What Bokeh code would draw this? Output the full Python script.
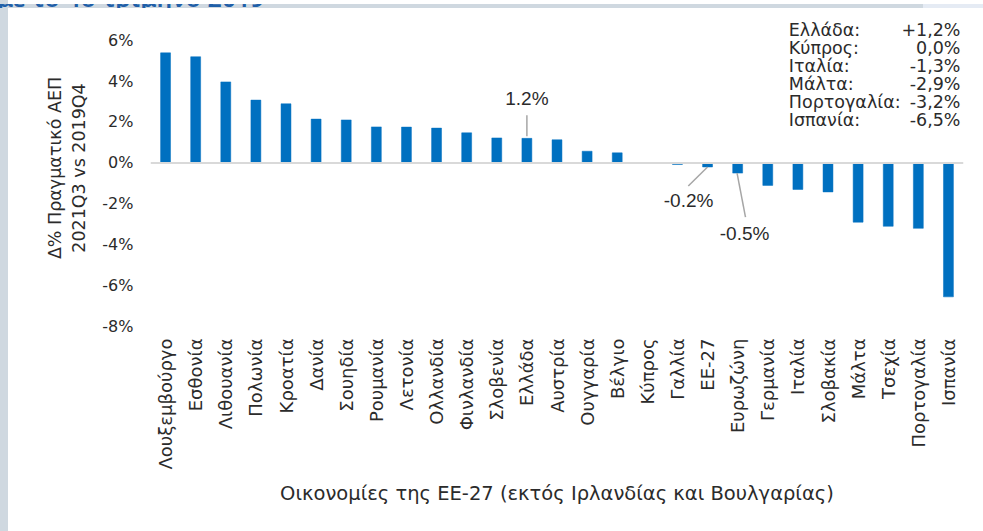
import math
from bokeh.plotting import figure
from bokeh.layouts import column, row
from bokeh.models import Range1d, FixedTicker, Span, Label, ColumnDataSource, Div, Spacer
from bokeh.embed import file_html
from bokeh.resources import INLINE
from bokeh.core.properties import value

# ---------------- data ----------------
countries = ["Λουξεμβούργο", "Εσθονία", "Λιθουανία", "Πολωνία", "Κροατία", "Δανία",
             "Σουηδία", "Ρουμανία", "Λετονία", "Ολλανδία", "Φινλανδία", "Σλοβενία",
             "Ελλάδα", "Αυστρία", "Ουγγαρία", "Βέλγιο", "Κύπρος", "Γαλλία", "ΕΕ-27",
             "Ευρωζώνη", "Γερμανία", "Ιταλία", "Σλοβακία", "Μάλτα", "Τσεχία",
             "Πορτογαλία", "Ισπανία"]
gdp_change = [5.38, 5.19, 3.96, 3.07, 2.89, 2.14, 2.10, 1.76, 1.75, 1.70, 1.47, 1.22,
              1.20, 1.13, 0.57, 0.49, 0.00, -0.08, -0.20, -0.50, -1.10, -1.30, -1.42,
              -2.90, -3.10, -3.20, -6.55]

y_ticks = [-8, -6, -4, -2, 0, 2, 4, 6]
y_tick_labels = ["-8%", "-6%", "-4%", "-2%", "0%", "2%", "4%", "6%"]

highlight_names = ["Ελλάδα:", "Κύπρος:", "Ιταλία:", "Μάλτα:", "Πορτογαλία:", "Ισπανία:"]
highlight_values = ["+1,2%", "0,0%", "-1,3%", "-2,9%", "-3,2%", "-6,5%"]

y_title = "Δ% Πραγματικό ΑΕΠ\n2021Q3 vs 2019Q4"
x_title = "Οικονομίες της ΕΕ-27 (εκτός Ιρλανδίας και Βουλγαρίας)"
page_title_tail = "με το 4ο τρίμηνο 2019"

# ---------------- style ----------------
FONT = "DejaVu Sans"
TXT = "#2b2b2b"
BAR = "#0070C0"
STRIP = "#CFD8E0"
STRIP_LIGHT = "#E5EBF4"

Y0, Y1 = -8, 7.5
W, H = 975, 523
B_L, B_R, B_T, B_B = 142, 20, 1, 205
px_per_unit = (H - B_T - B_B) / (Y1 - Y0)
cat_px = (W - B_L - B_R) / len(countries)

p = figure(x_range=countries, y_range=Range1d(Y0, Y1), width=W, height=H,
           output_backend="svg", toolbar_location=None,
           min_border_left=B_L, min_border_right=B_R,
           min_border_top=B_T, min_border_bottom=B_B)
p.outline_line_color = None
p.background_fill_color = "white"
p.border_fill_color = "white"
p.xgrid.grid_line_color = None
p.ygrid.grid_line_color = None

# y axis
p.yaxis.ticker = FixedTicker(ticks=y_ticks)
p.yaxis.major_label_overrides = {t: l for t, l in zip(y_ticks, y_tick_labels)}
p.yaxis.axis_line_color = None
p.yaxis.major_tick_line_color = None
p.yaxis.minor_tick_line_color = None
p.yaxis.major_tick_out = 0
p.yaxis.major_tick_in = 0
p.yaxis.major_label_standoff = 17
p.yaxis.major_label_text_font = FONT
p.yaxis.major_label_text_font_size = "16px"
p.yaxis.major_label_text_color = TXT
p.yaxis.axis_label = y_title
p.yaxis.axis_label_text_font = FONT
p.yaxis.axis_label_text_font_style = "normal"
p.yaxis.axis_label_text_font_size = "17.5px"
p.yaxis.axis_label_text_color = TXT
p.yaxis.axis_label_standoff = 10

# x axis
p.xaxis.axis_line_color = None
p.xaxis.major_tick_line_color = None
p.xaxis.minor_tick_line_color = None
p.xaxis.major_tick_out = 0
p.xaxis.major_tick_in = 0
p.xaxis.major_label_orientation = math.pi / 2
p.xaxis.major_label_standoff = 12
p.xaxis.major_label_text_font = FONT
p.xaxis.major_label_text_font_size = "18px"
p.xaxis.major_label_text_color = TXT
p.xaxis.axis_label = x_title
p.xaxis.axis_label_text_font = FONT
p.xaxis.axis_label_text_font_style = "normal"
p.xaxis.axis_label_text_font_size = "19.5px"
p.xaxis.axis_label_text_color = TXT
p.xaxis.axis_label_standoff = 10

# zero line
p.add_layout(Span(location=0, dimension="width", line_color="#D9D9D9", line_width=2))

# bars
src = ColumnDataSource(dict(x=countries, top=gdp_change))
p.vbar(x="x", top="top", width=0.33, source=src, fill_color=BAR, line_color=BAR,
       line_width=0.5)

# annotations with leader lines
def px(v):
    return v / px_per_unit

idx = {c: i + 0.5 for i, c in enumerate(countries)}
g = gdp_change[countries.index("Ελλάδα")]
e = gdp_change[countries.index("ΕΕ-27")]
z = gdp_change[countries.index("Ευρωζώνη")]

seg = dict(
    x0=[idx["Ελλάδα"], idx["ΕΕ-27"], idx["Ευρωζώνη"] - 0.02],
    y0=[g + px(2), e, z],
    x1=[idx["Ελλάδα"], idx["ΕΕ-27"] - 0.64, idx["Ευρωζώνη"] + 0.26],
    y1=[g + px(23), e - px(19), z - px(44)],
)
p.segment(x0="x0", y0="y0", x1="x1", y1="y1", source=ColumnDataSource(seg),
          line_color="#A6A6A6", line_width=1.5)

ann = dict(
    x=[idx["Ελλάδα"], idx["ΕΕ-27"] - 0.63, idx["Ευρωζώνη"] + 0.23],
    y=[g + px(40), e - px(34), z - px(60)],
    text=[f"{v:.1f}%" for v in (g, e, z)],
)
p.text(x="x", y="y", text="text", source=ColumnDataSource(ann),
       text_font=value("Liberation Sans"), text_font_size="19px",
       text_color=TXT, text_align="center", text_baseline="middle")

# highlight box (top right)
name_x = (780.3 - B_L) / cat_px
val_x = (952 - B_L) / cat_px
y_top_px = B_T + (Y1 - 6) * px_per_unit  # pixel row of 6%
for i, (n, v) in enumerate(zip(highlight_names, highlight_values)):
    base_px = 21.3 + 18 * i
    yy = 6 + px(y_top_px - base_px)
    p.add_layout(Label(x=name_x, y=yy, text=n, text_font=FONT, text_font_size="17.5px",
                       text_color=TXT, text_align="left", text_baseline="alphabetic"))
    p.add_layout(Label(x=val_x, y=yy, text=v, text_font=FONT, text_font_size="17.5px",
                       text_color=TXT, text_align="right", text_baseline="alphabetic"))

# page frame strips (top strip with cut-off title, left strip)
top_html = (
    f'<div style="width:983px;height:8px;overflow:hidden;position:relative;'
    f'background:linear-gradient(to right,{STRIP} 0px,{STRIP} 923px,{STRIP_LIGHT} 923px);">'
    f'<div style="position:absolute;left:-3px;top:-19px;white-space:nowrap;'
    f'font-family:\'Noto Sans\';font-weight:600;font-size:25px;line-height:25px;'
    f'color:#1F5FA8;">{page_title_tail}</div></div>'
)
top_div = Div(text=top_html, width=983, height=8, margin=0,
              styles={"overflow": "hidden", "padding": "0"})
left_gap = Spacer(width=8, height=H, margin=0, styles={"background-color": STRIP})
body = row(left_gap, p, spacing=0,
           styles={"background": f"linear-gradient(to right,{STRIP} 0px,{STRIP} 8px,white 8px)"})

layout = column(top_div, body, spacing=0, width=983, height=531,
                styles={"background": f"linear-gradient(to right,{STRIP} 0px,{STRIP} 8px,white 8px)"})

open("out.html", "w").write(file_html(layout, INLINE))
